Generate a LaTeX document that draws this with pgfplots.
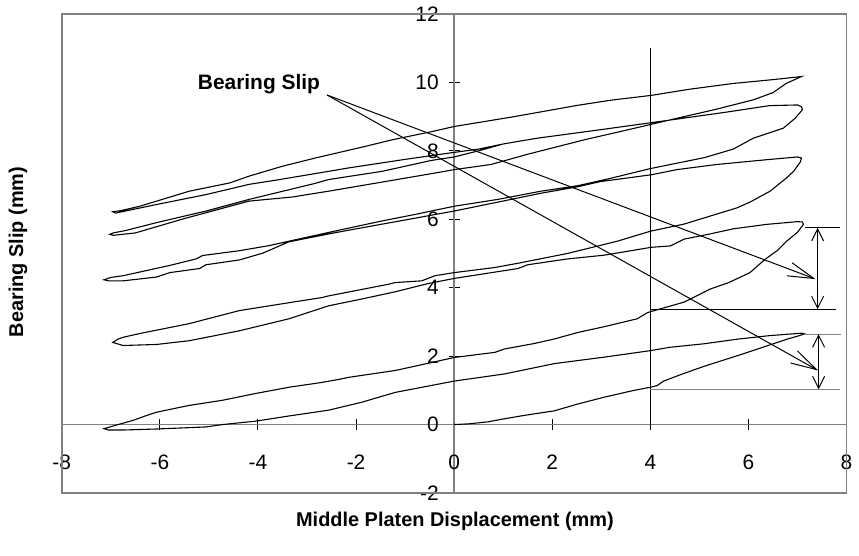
\documentclass[border=0pt]{standalone}
\usepackage{pgfplots}
\pgfplotsset{compat=1.18}
\usepackage{fontspec}
\setmainfont{Liberation Sans}
\usetikzlibrary{arrows.meta}
\begin{document}
\begin{tikzpicture}
\begin{axis}[
  scale only axis, width=394pt, height=240.5pt,
  xmin=-8, xmax=8, ymin=-2, ymax=12,
  axis lines=middle,
  axis line style={-, draw=gray, line width=0.7pt},
  xtick={-8,-6,...,8}, ytick={-2,0,...,12},
  tick align=center, major tick length=5.5pt,
  tick style={black, line width=0.5pt},
  hide obscured x ticks=false, hide obscured y ticks=false,
  /pgf/number format/assume math mode=true,
  xticklabel style={font=\fontsize{10.5}{12}\selectfont, yshift=-9pt},
  yticklabel style={font=\fontsize{10.5}{12}\selectfont, xshift=-1.5pt},
  clip=false,
]
% bounding box and frame
\path (rel axis cs:-0.0787,-0.131) rectangle (rel axis cs:1.0114,1.027);
\draw[gray, line width=0.8pt] (rel axis cs:0,0) rectangle (rel axis cs:1,1);

% hysteresis record
\addplot[black, line width=0.55pt] coordinates {
(0,0) (0.3,0.02) (0.69,0.08) (1.03,0.17) (1.44,0.27) (2.04,0.4) (2.52,0.6) (3.06,0.8) (3.67,1.0) (4.0,1.09) (4.14,1.14) (4.27,1.27) (4.6,1.45) (5.09,1.7) (5.9,2.07) (6.44,2.33) (6.8,2.5) (7.04,2.6) (7.14,2.65)
(7.08,2.67) (6.44,2.6) (5.8,2.5) (5.09,2.36) (4.41,2.26) (4.0,2.16) (3.06,1.97) (2.52,1.87) (2.04,1.78) (1.03,1.48) (0,1.27) (-1.2,0.94) (-1.89,0.65) (-2.56,0.42) (-3.37,0.25) (-4.04,0.1) (-4.72,0.0) (-5.06,-0.07) (-6.07,-0.13) (-6.75,-0.16) (-7.05,-0.16) (-7.14,-0.12)
(-6.9,-0.02) (-6.75,0.04) (-6.55,0.12) (-6.3,0.25) (-6.07,0.36) (-5.4,0.56) (-4.72,0.71) (-4.04,0.91) (-3.37,1.09) (-2.7,1.23) (-2.35,1.32) (-2.15,1.38) (-1.2,1.58) (-0.5,1.8) (0,1.96) (0.83,2.11) (1.03,2.21) (1.64,2.37) (2.04,2.5) (2.52,2.69) (3.06,2.86) (3.73,3.09) (3.94,3.27) (4.08,3.33) (4.69,3.58) (5.22,3.96) (5.6,4.15) (6.03,4.44) (6.34,4.83) (6.6,5.1) (6.78,5.36) (7.0,5.62) (7.12,5.85)
(7.1,5.92) (7.0,5.93) (6.37,5.85) (5.69,5.72) (5.15,5.55) (4.69,5.42) (4.41,5.22) (4.02,5.18) (3.06,4.95) (2.31,4.84) (1.5,4.67) (1.3,4.56) (0,4.27) (-0.53,4.12) (-1.2,3.88) (-1.88,3.67) (-2.56,3.47) (-3.37,3.09) (-4.38,2.74) (-5.4,2.45) (-6.07,2.34) (-6.75,2.31) (-6.96,2.4)
(-6.85,2.5) (-6.75,2.55) (-6.41,2.66) (-5.4,2.95) (-4.38,3.33) (-3.37,3.56) (-2.7,3.71) (-2.56,3.76) (-1.34,4.1) (-1.2,4.15) (-0.66,4.2) (-0.39,4.35) (0,4.44) (0.83,4.59) (1.36,4.73) (2.31,5.0) (3.33,5.36) (4.0,5.65) (4.69,5.86) (5.35,6.15) (5.76,6.33) (6.03,6.5) (6.44,6.82) (6.77,7.2) (6.92,7.4) (7.06,7.68) (7.08,7.79)
(7.0,7.82) (6.37,7.74) (5.35,7.6) (4.54,7.45) (4.02,7.3) (2.98,7.1) (2.52,6.95) (1.77,6.76) (0.89,6.5) (0,6.24) (-0.8,6.03) (-2.15,5.68) (-2.56,5.57) (-3.37,5.34) (-3.9,5.01) (-4.38,4.81) (-5.06,4.67) (-5.19,4.56) (-5.8,4.44) (-6.07,4.31) (-6.75,4.2) (-7.05,4.2) (-7.14,4.23)
(-7.0,4.3) (-6.75,4.35) (-5.8,4.65) (-5.26,4.84) (-5.13,4.94) (-4.38,5.08) (-3.77,5.23) (-3.3,5.38) (-2.35,5.68) (-1.47,5.95) (-0.8,6.14) (0,6.38) (0.89,6.58) (1.77,6.82) (2.52,6.98) (3.2,7.2) (4.0,7.48) (4.41,7.6) (5.1,7.8) (5.69,8.05) (6.1,8.37) (6.71,8.66) (6.95,8.95) (7.1,9.2) (7.08,9.29)
(7.0,9.34) (6.43,9.32) (5.5,9.12) (4.41,8.9) (3.0,8.62) (1.7,8.37) (1.0,8.2) (0.5,8.0) (0,7.82) (-0.46,7.72) (-1.47,7.4) (-2.56,7.16) (-2.83,7.05) (-4.18,6.58) (-5.06,6.24) (-6.07,5.9) (-6.7,5.67) (-6.95,5.6) (-7.02,5.56)
(-6.95,5.53) (-6.5,5.6) (-5.5,6.02) (-4.18,6.53) (-3.3,6.65) (-2.56,6.82) (-2.15,6.92) (-0.39,7.35) (0,7.45) (0.75,7.6) (1.5,7.9) (2.65,8.32) (3.5,8.6) (4.54,8.95) (5.3,9.2) (6.1,9.49) (6.5,9.7) (6.77,9.97) (7.08,10.17)
(6.5,10.08) (5.7,9.97) (4.8,9.8) (4.02,9.62) (3.2,9.48) (2.52,9.33) (1.23,9.0) (0,8.71) (-0.46,8.56) (-1.27,8.32) (-1.81,8.13) (-2.83,7.79) (-3.5,7.55) (-4.18,7.26) (-4.58,7.06) (-5.4,6.82) (-6.41,6.38) (-6.8,6.25) (-6.96,6.22)
(-6.9,6.18) (-6.07,6.43) (-5.06,6.72) (-4.18,7.02) (-3.6,7.15) (-2.56,7.4) (-2.15,7.5) (-1.0,7.75) (-0.12,7.93) (0.5,8.05) (1.0,8.2)
};

% reference lines
\addplot[black, line width=0.5pt] coordinates {(4,0) (4,11)};
\addplot[black, line width=0.5pt] coordinates {(4,3.37) (7.78,3.37)};
\addplot[gray, line width=0.7pt] coordinates {(4,1.03) (7.86,1.03)};
\addplot[black, line width=0.5pt] coordinates {(7.16,5.75) (7.86,5.75)};
\addplot[gray, line width=0.7pt] coordinates {(7.16,2.64) (7.88,2.64)};
% dimension arrows
\addplot[black, line width=0.5pt, {Straight Barb[length=6pt,width=6pt]}-{Straight Barb[length=6pt,width=6pt]}] coordinates {(7.41,5.75) (7.41,3.37)};
\addplot[black, line width=0.5pt, {Straight Barb[length=6pt,width=6pt]}-{Straight Barb[length=6pt,width=6pt]}] coordinates {(7.43,2.64) (7.43,1.03)};
% pointer arrows
\addplot[black, line width=0.5pt, -{Straight Barb[length=13pt,width=7pt]}] coordinates {(-2.59,9.63) (7.37,4.25)};
\addplot[black, line width=0.5pt, -{Straight Barb[length=13pt,width=7pt]}] coordinates {(-2.59,9.63) (7.42,1.58)};

\node[font=\bfseries\fontsize{10.5}{12}\selectfont] at (axis cs:-3.98,9.96) {Bearing Slip};
\node[font=\bfseries\fontsize{10}{12}\selectfont] at (rel axis cs:0.501,-0.059) {Middle Platen Displacement (mm)};
\node[font=\bfseries\fontsize{10}{12}\selectfont, rotate=90] at (rel axis cs:-0.0558,0.503) {Bearing Slip (mm)};
\end{axis}
\end{tikzpicture}
\end{document}
